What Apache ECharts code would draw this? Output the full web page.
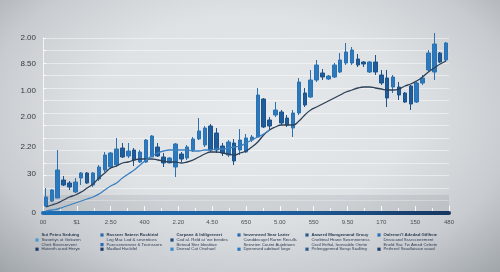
<!DOCTYPE html>
<html><head><meta charset="utf-8">
<script src="https://cdn.jsdelivr.net/npm/echarts@6/dist/echarts.min.js"></script>
<style>
html,body{margin:0;padding:0;width:500px;height:272px;overflow:hidden;}
body{background: radial-gradient(ellipse at 50% 42%, #e6e9ec 0%, #dfe2e5 45%, #c8ccd0 75%, #a0a5aa 100%);}
#c{width:500px;height:272px;}
</style></head><body><div id="c"></div>
<script>
// ---- data ----
const openVals  = [7,12,15,33,30,21,35,40,28,34,43,46,48,65,57,63,51,51,56,66,56,50,46,59,55,63,74,68,87,80,67,58,70,63,61,73,76,114,93,98,101,95,85,100,120,116,133,140,134,136,141,150,150,154,151,141,151,138,135,126,126,120,127,111,130,143,141,160,153];
const closeVals = [16,23,43,28,26,31,40,30,40,46,58,60,64,56,62,53,61,73,77,57,50,55,69,54,66,74,82,85,63,63,60,71,52,73,75,76,118,86,87,103,90,88,100,131,108,133,148,136,137,148,153,161,163,148,149,151,141,130,115,136,118,111,109,130,135,160,169,151,170];
const lowVals   = [6,11,15,27,23,20,28,29,26,32,41,44,46,55,55,47,50,50,56,56,46,50,36,51,53,61,73,66,61,60,57,56,48,58,60,71,76,85,83,96,88,86,76,98,106,115,131,133,133,135,140,148,148,146,146,140,138,128,106,120,113,110,103,110,128,141,133,150,151];
const highVals  = [25,24,63,37,32,35,41,41,41,48,61,61,75,70,70,65,63,74,78,70,60,56,70,61,68,76,95,87,89,85,70,73,74,84,79,78,125,115,96,111,103,98,103,135,125,143,153,144,138,150,160,170,166,159,152,152,158,143,143,138,131,121,128,131,138,163,180,161,171];
const trendDark = [6,8,10,13,16,18,21,25,29,35,40,45,47,50,51,53,54,54,54,53,52,51,51,50,51,53,56,59,61,61,60,59,58,60,62,66,71,78,83,86,88,88,88,92,98,103,106,109,112,115,118,121,123,125,126,126,125,124,123,123,124,127,129,132,136,141,145,149,152];
const trendLight = [2,3,4,6,8,10,12,14,16,19,23,27,30,35,39,43,48,53,57,60,62,63,63,63,63,62,62,63,63,64,64,65,66,67,70,73,76,79,83];
const categories = openVals.map((_, i) => 'P' + (i + 1));
const xTickLabels = ['00','$1','2.50','400','2.20','4.50','650','5.00','550','9.50','170','150','480'];
const yTickValues = [0, 39, 66, 96, 122, 149, 175];
const yTickLabels = ['0','30','2.20','2.00','1.00','8.50','2.00'];
const legendText = [
  ['Sui Peteu Seduing','Swoetiys at Gelozen','Chnit Bovesrevent','Hatenth aued Herye'],
  ['Rasseer Sateen Rucktrial','Leg Mac Lod & seventices','Paecseneeveer & Tecinssere','Madlod Hucktlel'],
  ['Carpane & Inlilgeenert','Cod al. Reld at \u2019we bendes','Betead Ster Ideattiae','Deeeal Cat Onehael'],
  ['Imvenneed Sear Larier','Canddecuyel Rarnn Reculls','Seevrien Coutnt Aujebtoen','Dpennved adebael lurge'],
  ['Aawerd Mamgemand Grouy','Cnebtnal Hrane Swcrnnieness','Cecil Eriftal, Ieonsable Onrtie','Pelenggemed Sorup Sadlitey'],
  ['Oalernet\u2019l Adedad Gifllene','Desscand Sssrcceeement','Eneld Sac Tw Amed Celrete','Pethreel Seadlatsian waud']
];
const legendMarker = [
  [null,'#4a9ad4',null,'#1d3b66'],
  ['#2b6cb0',null,'#2b6cb0','#1d3b66'],
  [null,'#1e4a80',null,'#3a8ac8'],
  ['#2b6cb0',null,null,'#2b78c0'],
  ['#2b5a90',null,null,'#2b5a90'],
  ['#2b70b8',null,null,'#1d3f70']
];

// ---- layout ----
const legendColX = [37, 102, 172, 239, 307, 379];
const legendRowY = [235, 240, 244.6, 249.2];

const candleData = openVals.map((o, i) => [o, closeVals[i], lowVals[i], highVals[i]]);

const graphics = [];
legendText.forEach((col, c) => {
  col.forEach((t, r) => {
    const mx = legendColX[c], my = legendRowY[r];
    if (legendMarker[c][r]) {
      graphics.push({type:'rect', shape:{x: mx - 1.6, y: my - 1.6, width: 3.2, height: 3.2}, style:{fill: legendMarker[c][r]}, silent:true});
    }
    graphics.push({type:'text', x: mx + 4.5, y: my, silent:true,
      style:{text: t, fill:'#2b3a52', fontSize: 4.3, fontFamily:'Liberation Sans', fontWeight: r === 0 ? 'bold' : 'normal', verticalAlign:'middle', align:'left'}});
  });
});

function yLabel(v) {
  let best = 0, bd = Infinity;
  yTickValues.forEach((tv, k) => { const d = Math.abs(tv - v); if (d < bd) { bd = d; best = k; } });
  return bd < 1 ? yTickLabels[best] : '';
}

const chart = echarts.init(document.getElementById('c'), null, {renderer:'canvas'});
chart.setOption({
  animation: false,
  backgroundColor: 'transparent',
  grid: {left: 43, right: 51, top: 38, bottom: 59},
  xAxis: [
    {type:'category', data: categories, boundaryGap: true, z: 3,
     axisLine:{show:true, onZero:false, lineStyle:{width:4, color:{type:'linear', x:0, y:0, x2:1, y2:0, colorStops:[{offset:0, color:'#1f6eb3'},{offset:0.6, color:'#1d5d9c'},{offset:1, color:'#17365f'}]}}},
     axisTick:{show:false}, axisLabel:{show:false}, splitLine:{show:false}},
    {type:'value', min:0, max:12, interval:1, position:'bottom', z: 1,
     axisLine:{show:false},
     axisTick:{show:true, inside:true, length:7, lineStyle:{color:'rgba(255,255,255,0.85)', width:1}},
     minorTick:{show:true, splitNumber:2, length:5, lineStyle:{color:'rgba(255,255,255,0.8)', width:1}},
     axisLabel:{fontSize:6, fontFamily:'Liberation Sans', color:'#4a5057', margin:6, formatter:(v) => xTickLabels[Math.round(v)]},
     splitLine:{show:false}, minorSplitLine:{show:false}}
  ],
  yAxis: [
    {type:'value', min:0, max:175, interval:12.5,
     axisLine:{show:true, lineStyle:{color:'rgba(255,255,255,0.75)', width:1}},
     axisTick:{show:true, inside:true, length:3, lineStyle:{color:'rgba(255,255,255,0.85)'}},
     axisLabel:{show:false},
     splitLine:{show:true, lineStyle:{color:'rgba(255,255,255,0.45)', width:1}}},
    {type:'value', min:0, max:175, position:'left',
     axisLine:{show:false}, axisTick:{show:false}, splitLine:{show:false},
     axisLabel:{show:true, customValues: yTickValues, formatter: yLabel, fontSize:8, fontFamily:'Liberation Sans', color:'#343a40', margin:7}}
  ],
  series: [
    {type:'candlestick', data: candleData, barWidth: 4, clip: false,
     itemStyle:{color:'#2c7abd', color0:'#1d5d9b', borderColor:'#2a72b2', borderColor0:'#1f528a', borderWidth:1},
     markArea:{silent:true, itemStyle:{color:'rgba(110,115,122,0.15)'}, data:[[{yAxis:0},{yAxis:18}]]}},
    {type:'line', data: trendDark, smooth: true, symbol:'none', lineStyle:{color:'#2c4058', width:1.3}, z: 3},
    {type:'line', data: trendLight, smooth: true, symbol:'none', lineStyle:{color:'#3b80c0', width:1.3}, z: 3}
  ],
  graphic: graphics
});
</script></body></html>
